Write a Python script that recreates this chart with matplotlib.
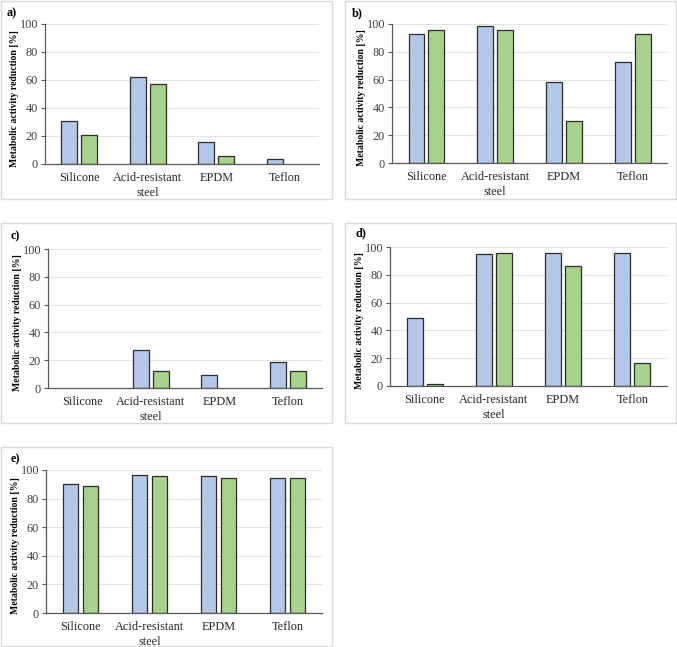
import matplotlib
matplotlib.use("Agg")
import matplotlib.pyplot as plt
from matplotlib.patches import Rectangle
import numpy as np

plt.rcParams['font.family'] = ['Liberation Serif', 'DejaVu Serif']

categories = ["Silicone", "Acid-resistant\nsteel", "EPDM", "Teflon"]
panel_labels = ["a)", "b)", "c)", "d)", "e)"]
series_blue = [
    [31, 62, 16, 3.5],
    [93, 98.5, 58, 73],
    [0, 27.5, 9, 19],
    [49, 95, 95.5, 95.5],
    [90, 96.5, 95.5, 94.5],
]
series_green = [
    [21, 57, 6, 0],
    [96, 95.5, 30, 92.5],
    [0, 12, 0, 12],
    [1.5, 95.5, 86, 16.5],
    [89, 95.5, 94.5, 94.5],
]
yticks = [0, 20, 40, 60, 80, 100]

W, H = 677, 647
fig = plt.figure(figsize=(W / 100, H / 100), dpi=100)

axes_px = [
    (45, 24, 319, 164),
    (392, 24, 667, 163),
    (48, 249, 322, 388),
    (390, 247, 667, 386),
    (46, 470, 322, 613),
]
box_px = [
    (1, 1, 332, 199),
    (345, 1, 676, 199),
    (1, 223, 332, 423),
    (345, 223, 676, 423),
    (1, 447, 332, 646),
]
lab_px = [(12, 13), (357, 13), (15, 236), (361, 233), (15, 459)]

blue = "#b4c7e7"
green = "#a9d18e"
edge = "#2b2b2b"

for x0, y0, x1, y1 in box_px:
    fig.add_artist(Rectangle((x0 / W, 1 - y1 / H), (x1 - x0) / W, (y1 - y0) / H,
                             transform=fig.transFigure, fill=False,
                             edgecolor="#d9d9d9", linewidth=1.0))

x = np.arange(len(categories))
bw = 0.23
off = 0.145
for i in range(5):
    l, t, r, b = axes_px[i]
    ax = fig.add_axes([l / W, 1 - b / H, (r - l) / W, (b - t) / H])
    for vals, col, sgn in ((series_blue[i], blue, -1), (series_green[i], green, 1)):
        ecs = [edge if v > 0 else "none" for v in vals]
        ax.bar(x + sgn * off, vals, bw, color=col, edgecolor=ecs, linewidth=0.9, zorder=3)
    ax.set_xlim(-0.5, 3.5)
    ax.set_ylim(0, 100)
    ax.set_yticks(yticks)
    ax.set_yticklabels([str(v) for v in yticks], fontsize=8.8, color="#404040")
    ax.set_xticks(x)
    ax.set_xticklabels(categories, fontsize=8.8, color="#262626", linespacing=1.3)
    ax.tick_params(axis='x', length=0, pad=6)
    ax.tick_params(axis='y', length=3, width=0.8, color="#595959", pad=2)
    ax.grid(axis='y', color="#e3e3e3", linewidth=0.8, zorder=0)
    for s in ["top", "right"]:
        ax.spines[s].set_visible(False)
    ax.spines["left"].set_color("#595959")
    ax.spines["bottom"].set_color("#595959")
    ax.spines["left"].set_linewidth(0.9)
    ax.spines["bottom"].set_linewidth(0.9)
    ax.spines["bottom"].set_zorder(4)
    ax.set_ylabel("Metabolic activity reduction [%]", fontsize=7, fontweight="bold")
    ax.yaxis.set_label_coords(-0.095, 0.47)
    lx, ly = lab_px[i]
    fig.text(lx / W, 1 - ly / H, panel_labels[i], fontsize=8.8, fontweight="bold",
             ha="center", va="center")

fig.savefig("out.png", dpi=100)
